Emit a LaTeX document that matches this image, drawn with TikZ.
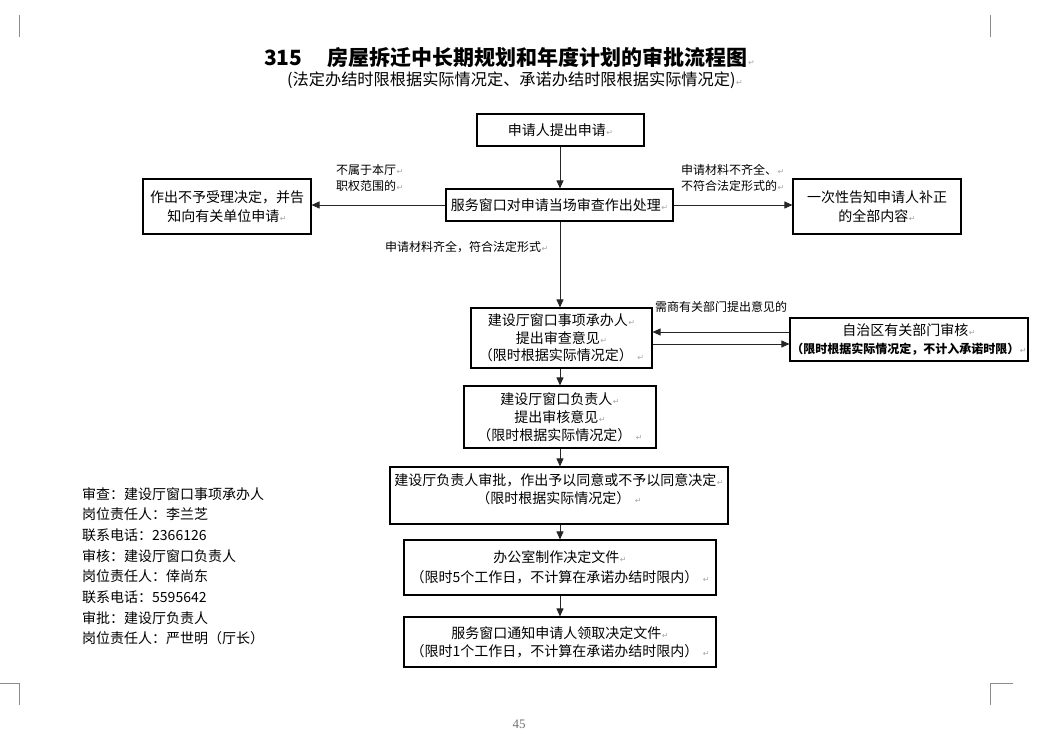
\documentclass[tikz,border=0pt]{standalone}
\usepackage{fontspec}
\setmainfont{Noto Sans CJK SC}
\newfontfamily\dejavu{DejaVu Sans}
\newfontfamily\serifnum{Liberation Serif}
\usetikzlibrary{arrows.meta}
\newcommand\rmk{\hspace{0.5pt}{\color{black!35}\fontsize{8}{8}\selectfont\mdseries\dejavu ↵}}
\tikzset{
  box/.style={draw, line width=1.1pt, inner sep=0pt, align=center, font=\fontsize{14}{18}\selectfont},
  lbl/.style={font=\fontsize{12}{16}\selectfont, inner sep=0pt, align=left, anchor=west},
  arr/.style={draw=black!85, line width=0.9pt, -{Triangle[length=8pt,width=7pt]}},
  txt/.style={inner sep=0pt, align=center, font=\fontsize{14}{18}\selectfont},
  crop/.style={draw=black!45, line width=0.8pt}
}
\begin{document}
\begin{tikzpicture}[x=1pt,y=-1pt]
\useasboundingbox (0,0) rectangle (1047,740);
% corner marks
\draw[crop] (19,15) -- (19,37);
\draw[crop] (990,15) -- (990,37);
\draw[crop] (0,683) -- (19,683) -- (19,705);
\draw[crop] (1013,683) -- (990,683) -- (990,705);
% title
\node[anchor=west, inner sep=0pt, font=\bfseries\fontsize{21}{21}\selectfont] (title) at (264,57) {315\hspace{25pt}房屋拆迁中长期规划和年度计划的审批流程图\rmk};
\node[anchor=west, inner sep=0pt, font=\fontsize{16.2}{16.2}\selectfont] (sub) at (287,80) {(法定办结时限根据实际情况定、承诺办结时限根据实际情况定)\rmk};
% boxes
\node[box, minimum width=167pt, minimum height=32pt] (A) at (560.5,130) {申请人提出申请\rmk};
\node[box, minimum width=227pt, minimum height=32pt] (B) at (559.5,205) {服务窗口对申请当场审查作出处理\rmk};
\node[box, minimum width=168pt, minimum height=55pt, font=\fontsize{14}{19}\selectfont] (L) at (227,206.5) {作出不予受理决定，并告\\知向有关单位申请\rmk};
\node[box, minimum width=168pt, minimum height=55pt, font=\fontsize{14}{19}\selectfont] (R) at (877,206.5) {一次性告知申请人补正\\的全部内容\rmk};
\node[box, minimum width=181pt, minimum height=60pt, font=\fontsize{14}{17.5}\selectfont] (C) at (561.5,338) {建设厅窗口事项承办人\rmk\\提出审查意见\rmk\\（限时根据实际情况定）\hspace{4pt}\rmk};
\node[box, minimum width=238pt, minimum height=43pt] (D) at (909,339.5) {自治区有关部门审核\rmk\\{\bfseries\fontsize{12}{12}\selectfont（限时根据实际情况定，不计入承诺时限）\rmk}};
\node[box, minimum width=192pt, minimum height=62pt] (E) at (560,417) {建设厅窗口负责人\rmk\\提出审核意见\rmk\\（限时根据实际情况定）\hspace{4pt}\rmk};
\node[box, minimum width=338pt, minimum height=57pt] (F) at (559,495.5) {};
\node[txt] (Ft) at (559,489) {建设厅负责人审批，作出予以同意或不予以同意决定\rmk\\（限时根据实际情况定）\hspace{4pt}\rmk};
\node[box, minimum width=312pt, minimum height=55pt, font=\fontsize{14}{20}\selectfont] (G) at (560,567.5) {办公室制作决定文件\rmk\\（限时5个工作日，不计算在承诺办结时限内）\hspace{4pt}\rmk};
\node[box, minimum width=312pt, minimum height=50pt] (H) at (560,642) {服务窗口通知申请人领取决定文件\rmk\\（限时1个工作日，不计算在承诺办结时限内）\hspace{4pt}\rmk};
% labels
\node[lbl] (l1) at (336,178) {不属于本厅\rmk\\职权范围的\rmk};
\node[lbl] (l2) at (681,178) {申请材料不齐全、\rmk\\不符合法定形式的\rmk};
\node[lbl] (l3) at (385,247) {申请材料齐全，符合法定形式\rmk};
\node[lbl] (l4) at (655,307) {需商有关部门提出意见的};
% info block
\node[anchor=north west, align=left, inner sep=0pt, font=\fontsize{14}{20.7}\selectfont] (info) at (82,487) {审查：建设厅窗口事项承办人\\岗位责任人：李兰芝\\联系电话：2366126\\审核：建设厅窗口负责人\\岗位责任人：倖尚东\\联系电话：5595642\\审批：建设厅负责人\\岗位责任人：严世明（厅长）};
% page number
\node[font=\serifnum\fontsize{13}{13}\selectfont, text=black!55, inner sep=0pt] (pg) at (519,724) {45};
% connectors
\draw[arr] (A.south -| 560,0) -- (B.north -| 560,0);
\draw[arr] (B.west) -- (B.west -| L.east);
\draw[arr] (B.east) -- (B.east -| R.west);
\draw[arr] (B.south -| 560,0) -- (C.north -| 560,0);
\draw[arr] (D.west |- 0,332) -- (C.east |- 0,332);
\draw[arr] (C.east |- 0,344) -- (D.west |- 0,344);
\draw[arr] (C.south -| 560,0) -- (E.north -| 560,0);
\draw[arr] (E.south -| 560,0) -- (F.north -| 560,0);
\draw[arr] (F.south -| 560,0) -- (G.north -| 560,0);
\draw[arr] (G.south -| 560,0) -- (H.north -| 560,0);
\end{tikzpicture}
\end{document}
